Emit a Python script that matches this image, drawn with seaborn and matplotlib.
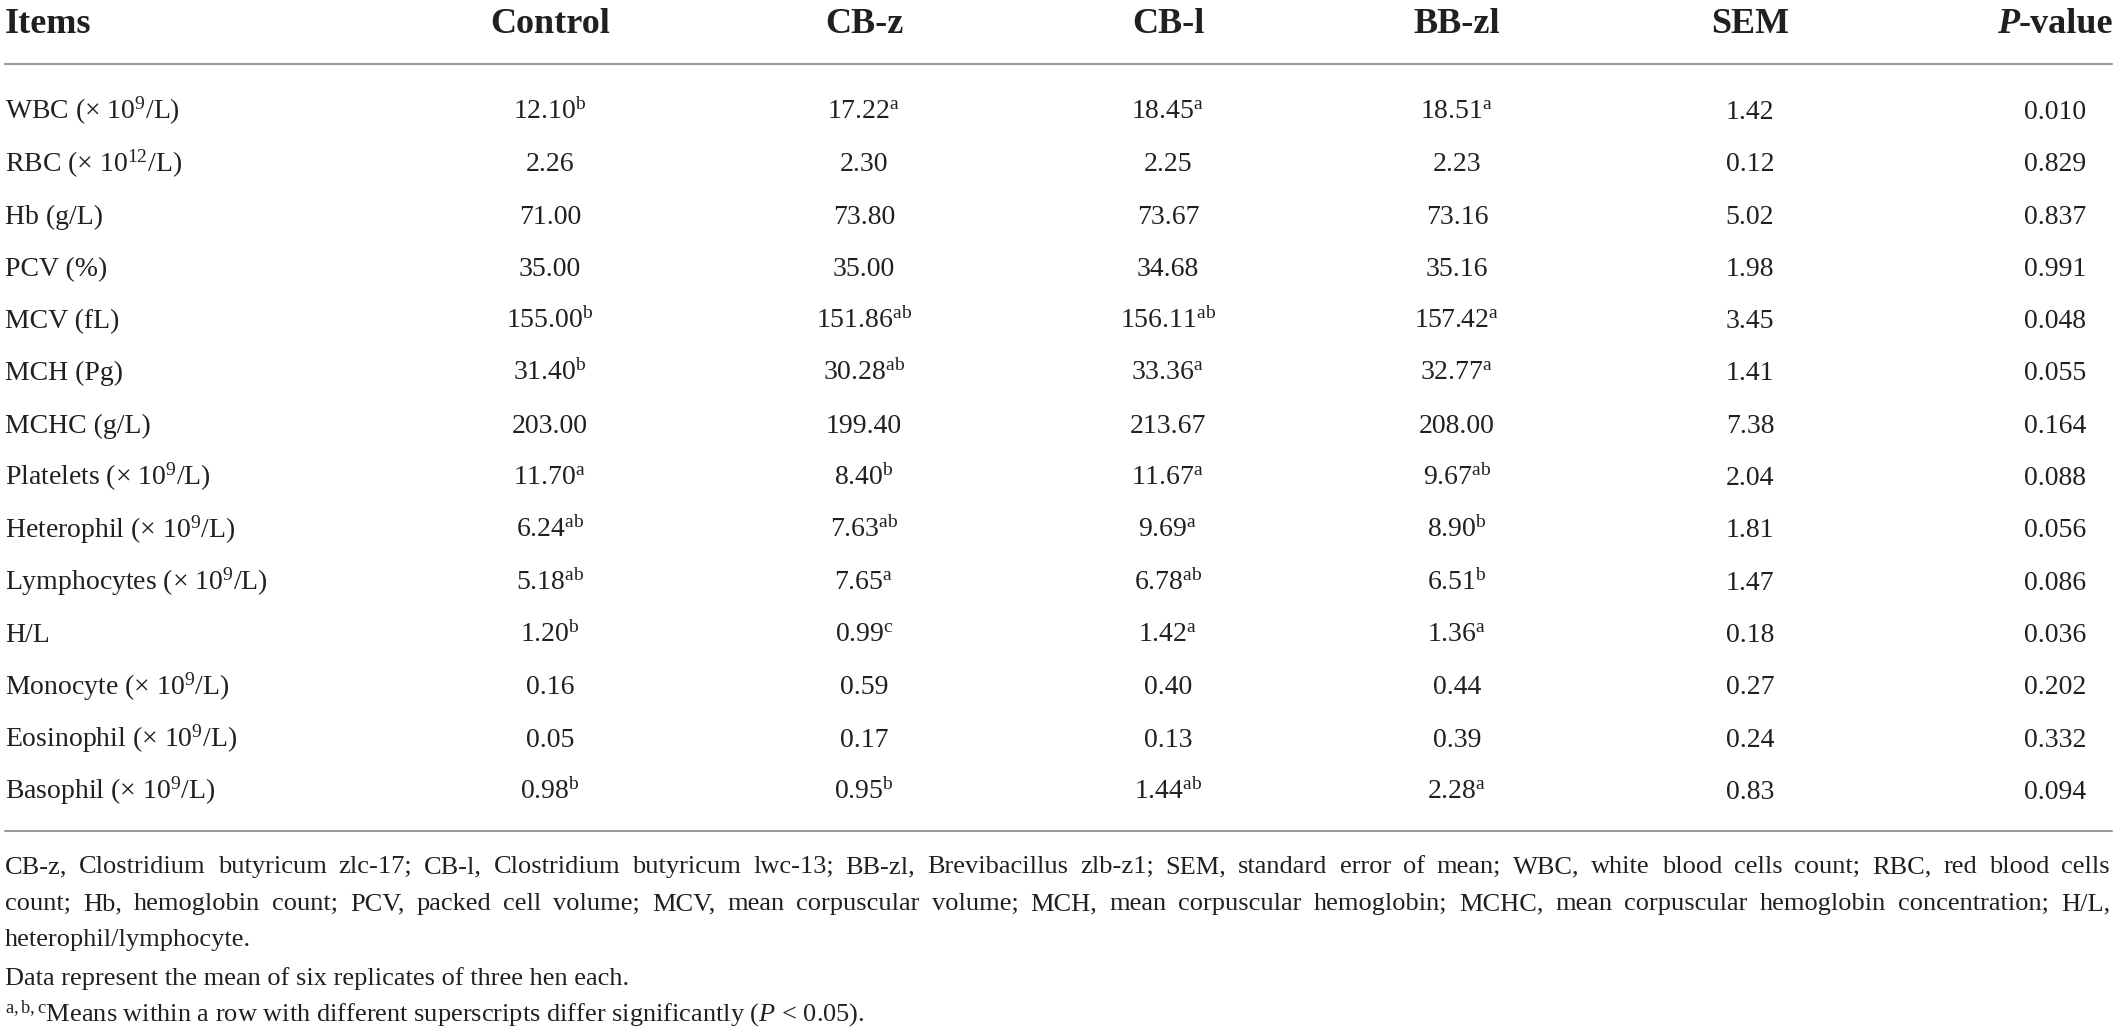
import matplotlib
matplotlib.use("Agg")
import matplotlib.pyplot as plt
import seaborn as sns
import pandas as pd

# table content
headers = ["Control", "CB-z", "CB-l", "BB-zl", "SEM"]
items = ["WBC (× 10$^{9}$/L)", "RBC (× 10$^{12}$/L)", "Hb (g/L)", "PCV (%)", "MCV (fL)",
         "MCH (Pg)", "MCHC (g/L)", "Platelets (× 10$^{9}$/L)", "Heterophil (× 10$^{9}$/L)",
         "Lymphocytes (× 10$^{9}$/L)", "H/L", "Monocyte (× 10$^{9}$/L)",
         "Eosinophil (× 10$^{9}$/L)", "Basophil (× 10$^{9}$/L)"]
control = ["12.10", "2.26", "71.00", "35.00", "155.00", "31.40", "203.00", "11.70", "6.24", "5.18", "1.20", "0.16", "0.05", "0.98"]
control_sup = ["b", "", "", "", "b", "b", "", "a", "ab", "ab", "b", "", "", "b"]
cbz = ["17.22", "2.30", "73.80", "35.00", "151.86", "30.28", "199.40", "8.40", "7.63", "7.65", "0.99", "0.59", "0.17", "0.95"]
cbz_sup = ["a", "", "", "", "ab", "ab", "", "b", "ab", "a", "c", "", "", "b"]
cbl = ["18.45", "2.25", "73.67", "34.68", "156.11", "33.36", "213.67", "11.67", "9.69", "6.78", "1.42", "0.40", "0.13", "1.44"]
cbl_sup = ["a", "", "", "", "ab", "a", "", "a", "a", "ab", "a", "", "", "ab"]
bbzl = ["18.51", "2.23", "73.16", "35.16", "157.42", "32.77", "208.00", "9.67", "8.90", "6.51", "1.36", "0.44", "0.39", "2.28"]
bbzl_sup = ["a", "", "", "", "a", "a", "", "ab", "b", "b", "a", "", "", "a"]
sem = ["1.42", "0.12", "5.02", "1.98", "3.45", "1.41", "7.38", "2.04", "1.81", "1.47", "0.18", "0.27", "0.24", "0.83"]
pvalue = ["0.010", "0.829", "0.837", "0.991", "0.048", "0.055", "0.164", "0.088", "0.056", "0.086", "0.036", "0.202", "0.332", "0.094"]

notes = [
    "CB-z, Clostridium butyricum zlc-17; CB-l, Clostridium butyricum lwc-13; BB-zl, Brevibacillus zlb-z1; SEM, standard error of mean; WBC, white blood cells count; RBC, red blood cells",
    "count; Hb, hemoglobin count; PCV, packed cell volume; MCV, mean corpuscular volume; MCH, mean corpuscular hemoglobin; MCHC, mean corpuscular hemoglobin concentration; H/L,",
    "heterophil/lymphocyte.",
    "Data represent the mean of six replicates of three hen each.",
    "$^{\\mathrm{a,b,c}}$Means within a row with different superscripts differ significantly ($\\mathit{P}$ < 0.05).",
]


def cell(v, s):
    return v + ("$^{\\mathrm{%s}}$" % s if s else "")


df = pd.DataFrame({
    "Items": items,
    "Control": [cell(v, s) for v, s in zip(control, control_sup)],
    "CB-z": [cell(v, s) for v, s in zip(cbz, cbz_sup)],
    "CB-l": [cell(v, s) for v, s in zip(cbl, cbl_sup)],
    "BB-zl": [cell(v, s) for v, s in zip(bbzl, bbzl_sup)],
    "SEM": sem,
    "P-value": pvalue,
})

sns.set_theme(style="white")
plt.rcParams["font.family"] = ["Liberation Serif", "DejaVu Serif"]
plt.rcParams["mathtext.fontset"] = "custom"
plt.rcParams["mathtext.rm"] = "Liberation Serif"
plt.rcParams["mathtext.it"] = "Liberation Serif:italic"
plt.rcParams["mathtext.bf"] = "Liberation Serif:bold"

ink = "#231f20"
rule = "#9a9a9a"
W, H = 2117, 1033
fig = plt.figure(figsize=(W / 100, H / 100), dpi=100)
ax = fig.add_axes([0, 0, 1, 1])
ax.set_xlim(0, W)
ax.set_ylim(H, 0)
ax.axis("off")

col_x = [550, 864, 1168, 1457, 1750, 2055]
head_size, body_size, note_size = 26, 20, 19
r = fig.canvas.get_renderer()

# header
ax.text(5, 33, "Items", fontsize=head_size, fontweight="bold", color=ink, va="baseline")
for x, h in zip(col_x, headers):
    ax.text(x, 33, h, fontsize=head_size, fontweight="bold", color=ink, ha="center", va="baseline")
p1 = ax.text(0, 33, "P", fontsize=head_size, fontweight="bold", fontstyle="italic", color=ink, va="baseline")
p2 = ax.text(0, 33, "-value", fontsize=head_size, fontweight="bold", color=ink, va="baseline")
w1 = p1.get_window_extent(r).width
w2 = p2.get_window_extent(r).width
p1.set_x(col_x[5] - (w1 + w2) / 2)
p2.set_x(col_x[5] - (w1 + w2) / 2 + w1)

ax.plot([5, 2112], [64, 64], color=rule, lw=1.5)

# body rows
for i, row in df.iterrows():
    y = 110 + 52.3 * i + 9
    ax.text(5, y, row["Items"], fontsize=body_size, color=ink, va="baseline")
    for x, c in zip(col_x, ["Control", "CB-z", "CB-l", "BB-zl", "SEM", "P-value"]):
        ax.text(x, y, row[c], fontsize=body_size, color=ink, ha="center", va="baseline")

ax.plot([5, 2112], [831, 831], color=rule, lw=1.5)

# footnotes, first two lines justified
foot_y = [865, 902, 938, 977, 1013]
for k, (line, y) in enumerate(zip(notes, foot_y)):
    y = y + 8
    if k < 2:
        words = line.split(" ")
        arts = [ax.text(0, y, w, fontsize=note_size, color=ink, va="baseline") for w in words]
        widths = [a.get_window_extent(r).width for a in arts]
        gap = (2110 - 5 - sum(widths)) / (len(words) - 1)
        x = 5
        for a, w in zip(arts, widths):
            a.set_x(x)
            x += w + gap
    else:
        ax.text(5, y, line, fontsize=note_size, color=ink, va="baseline")

fig.savefig("out.png", dpi=100)
